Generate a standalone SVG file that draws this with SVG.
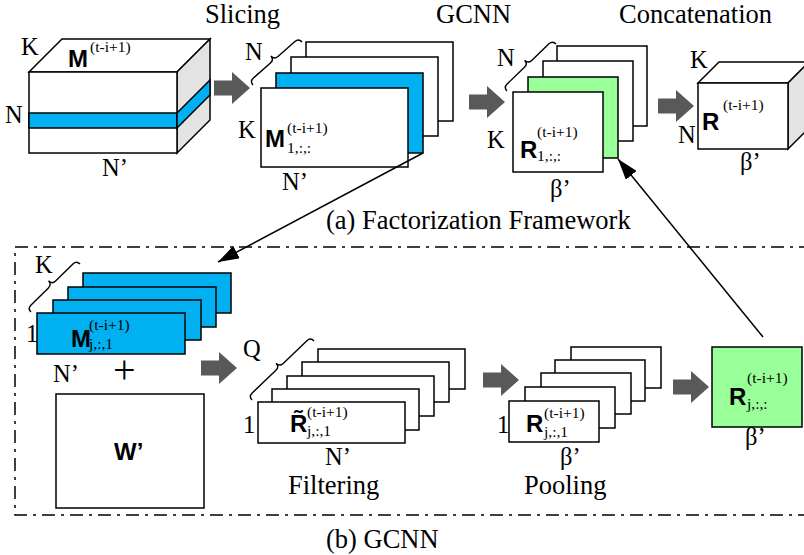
<svg xmlns="http://www.w3.org/2000/svg" xmlns:xlink="http://www.w3.org/1999/xlink" width="804" height="555" viewBox="0 0 804 555">
  <style>
    .sh { stroke: #000; stroke-width: 1.5; stroke-linejoin: miter; }
    .w { fill: #fff; }
    .b { fill: #00b0f0; }
    .g { fill: #99ff99; }
    .side { fill: #e3e3e3; }
    .br { fill: none; stroke: #000; stroke-width: 1.4; }
    .t { font-family: "Liberation Serif", "Times New Roman", serif; fill: #000; }
    .title { font-size: 26.5px; }
    .lab { font-size: 24.5px; }
    .sc { font-size: 15.5px; }
    .bf { font-family: "Liberation Sans", Arial, sans-serif; font-weight: bold; font-size: 24px; fill: #000; }
    .con { stroke: #000; stroke-width: 1.5; fill: none; }
    .frame { fill: none; stroke: #000; stroke-width: 1.5; stroke-dasharray: 13 6 3 6; }
  </style>
  <defs>
    <path id="blk" d="M0,-7.5 H18 V-16 L36,0 L18,16 V7.5 H0 Z" fill="#595959"/>
    <marker id="ah" markerUnits="userSpaceOnUse" markerWidth="21" markerHeight="14" refX="21" refY="7" orient="auto">
      <path d="M0,0 L21,7 L0,14 Z" fill="#000"/>
    </marker>
  </defs>

  <rect width="804" height="555" fill="#fff"/>

  <!-- headings -->
  <text class="t title" x="205" y="23">Slicing</text>
  <text class="t title" x="436" y="23">GCNN</text>
  <text class="t title" x="619" y="23">Concatenation</text>
  <text class="t title" x="326" y="229">(a) Factorization Framework</text>
  <text class="t title" x="326" y="548">(b) GCNN</text>

  <!-- GCNN frame -->
  <path class="frame" d="M812,247 H15 V515 H812"/>

  <!-- tensor M -->
  <g id="tensor-m">
    <polygon class="sh w" points="29,72 62,39 210,39 177,72"/>
    <polygon class="sh side" points="177,72 210,39 210,120 177,153"/>
    <rect class="sh w" x="29" y="72" width="148" height="81"/>
    <rect class="sh b" x="29" y="113" width="148" height="15"/>
    <polygon class="sh b" points="177,113 210,80 210,95 177,128"/>
    <text class="t lab" x="21" y="55">K</text>
    <text class="t lab" x="5" y="123">N</text>
    <text class="t lab" x="102" y="176">N’</text>
    <text class="bf" x="68" y="67">M</text>
    <text class="t sc" x="90" y="52">(t-i+1)</text>
  </g>

  <!-- sliced matrices -->
  <g id="slices">
    <rect class="sh w" x="306" y="42" width="147" height="79"/>
    <rect class="sh w" x="291" y="57" width="147" height="79"/>
    <rect class="sh b" x="276" y="73" width="147" height="80"/>
    <rect class="sh w" x="261" y="88" width="147" height="79"/>
    <path class="br" transform="translate(253,85) rotate(-41.3)" d="M0,0 Q0,-5 5,-5 H27.6 Q32.6,-5 32.6,-10 Q32.6,-5 37.6,-5 H60.2 Q65.2,-5 65.2,0"/>
    <text class="t lab" x="245" y="60">N</text>
    <text class="t lab" x="238" y="138">K</text>
    <text class="t lab" x="282" y="190">N’</text>
    <text class="bf" x="265" y="147">M</text>
    <text class="t sc" x="287" y="133">(t-i+1)</text>
    <text class="t sc" x="287" y="153">1,:,:</text>
  </g>

  <!-- GCNN outputs -->
  <g id="gcnn-out">
    <rect class="sh w" x="557" y="46" width="90" height="80"/>
    <rect class="sh w" x="543" y="61" width="90" height="80"/>
    <rect class="sh g" x="528" y="77" width="90" height="81"/>
    <rect class="sh w" x="513" y="92" width="90" height="80"/>
    <path class="br" transform="translate(507,91) rotate(-43.8)" d="M0,0 Q0,-5 5,-5 H29 Q34,-5 34,-10 Q34,-5 39,-5 H62.9 Q67.9,-5 67.9,0"/>
    <text class="t lab" x="497" y="66">N</text>
    <text class="t lab" x="487" y="148">K</text>
    <text class="t lab" x="550" y="197">β’</text>
    <text class="bf" x="520" y="158">R</text>
    <text class="t sc" x="537" y="137">(t-i+1)</text>
    <text class="t sc" x="537" y="161">1,:,:</text>
  </g>

  <!-- tensor R -->
  <g id="tensor-r">
    <polygon class="sh w" points="698,83 719,62 809,62 788,83"/>
    <polygon class="sh side" points="788,83 809,62 809,128 788,149"/>
    <rect class="sh w" x="698" y="83" width="90" height="66"/>
    <text class="t lab" x="690" y="68">K</text>
    <text class="t lab" x="678" y="143">N</text>
    <text class="t lab" x="740" y="170">β’</text>
    <text class="bf" x="702" y="130">R</text>
    <text class="t sc" x="723" y="110">(t-i+1)</text>
  </g>

  <!-- input rows -->
  <g id="rows-m">
    <rect class="sh b" x="83" y="273" width="148" height="40"/>
    <rect class="sh b" x="68" y="287" width="148" height="40"/>
    <rect class="sh b" x="53" y="300" width="148" height="40"/>
    <rect class="sh b" x="37" y="313" width="148" height="41"/>
    <path class="br" transform="translate(31,312) rotate(-44.4)" d="M0,0 Q0,-5 5,-5 H29.3 Q34.3,-5 34.3,-10 Q34.3,-5 39.3,-5 H63.6 Q68.6,-5 68.6,0"/>
    <text class="t lab" x="35" y="273">K</text>
    <text class="t lab" x="26" y="342">1</text>
    <text class="t lab" x="53" y="382">N’</text>
    <text class="bf" x="71" y="347">M</text>
    <text class="t sc" x="89" y="330">(t-i+1)</text>
    <text class="t sc" x="89" y="349">j,:,1</text>
  </g>

  <text id="plus" class="t" x="113" y="383" font-size="40">+</text>

  <!-- weight matrix -->
  <g id="weights">
    <rect class="sh w" x="56" y="394" width="148" height="114"/>
    <text class="bf" x="114" y="460">W’</text>
  </g>

  <!-- filtering maps -->
  <g id="filtering">
    <rect class="sh w" x="318" y="349" width="147" height="40"/>
    <rect class="sh w" x="302" y="362" width="147" height="40"/>
    <rect class="sh w" x="287" y="376" width="147" height="40"/>
    <rect class="sh w" x="272" y="389" width="147" height="41"/>
    <rect class="sh w" x="258" y="402" width="147" height="41"/>
    <path class="br" transform="translate(252,400) rotate(-43.6)" d="M0,0 Q0,-5 5,-5 H37.8 Q42.8,-5 42.8,-10 Q42.8,-5 47.8,-5 H80.6 Q85.6,-5 85.6,0"/>
    <text class="t lab" x="243" y="357">Q</text>
    <text class="t lab" x="243" y="433">1</text>
    <text class="t lab" x="325" y="465">N’</text>
    <text class="bf" x="290" y="432">R</text>
    <text class="bf" x="298" y="427" text-anchor="middle">˜</text>
    <text class="t sc" x="307" y="417">(t-i+1)</text>
    <text class="t sc" x="307" y="436">j,:,1</text>
    <text class="t title" x="288" y="494">Filtering</text>
  </g>

  <!-- pooled maps -->
  <g id="pooling">
    <rect class="sh w" x="571" y="347" width="90" height="41"/>
    <rect class="sh w" x="555" y="360" width="90" height="41"/>
    <rect class="sh w" x="541" y="373" width="90" height="41"/>
    <rect class="sh w" x="525" y="387" width="90" height="41"/>
    <rect class="sh w" x="509" y="401" width="90" height="41"/>
    <text class="t lab" x="497" y="433">1</text>
    <text class="t lab" x="560" y="465">β’</text>
    <text class="bf" x="526" y="432">R</text>
    <text class="t sc" x="544" y="418">(t-i+1)</text>
    <text class="t sc" x="544" y="437">j,:,1</text>
    <text class="t title" x="524" y="494">Pooling</text>
  </g>

  <!-- GCNN result -->
  <g id="gcnn-result">
    <rect class="sh g" x="712" y="347" width="90" height="80"/>
    <text class="bf" x="729" y="405">R</text>
    <text class="t sc" x="747" y="383">(t-i+1)</text>
    <text class="t sc" x="747" y="409">j,:,:</text>
    <text class="t lab" x="745" y="445">β’</text>
  </g>

  <!-- connectors -->
  <g id="connectors">
    <use xlink:href="#blk" x="214" y="88"/>
    <use xlink:href="#blk" x="469" y="102"/>
    <use xlink:href="#blk" x="658" y="106"/>
    <use xlink:href="#blk" x="201" y="368"/>
    <use xlink:href="#blk" x="483" y="380"/>
    <use xlink:href="#blk" x="673" y="387"/>
    <line class="con" x1="423" y1="153" x2="218" y2="262" marker-end="url(#ah)"/>
    <line class="con" x1="763" y1="337" x2="618" y2="159" marker-end="url(#ah)"/>
  </g>
</svg>
